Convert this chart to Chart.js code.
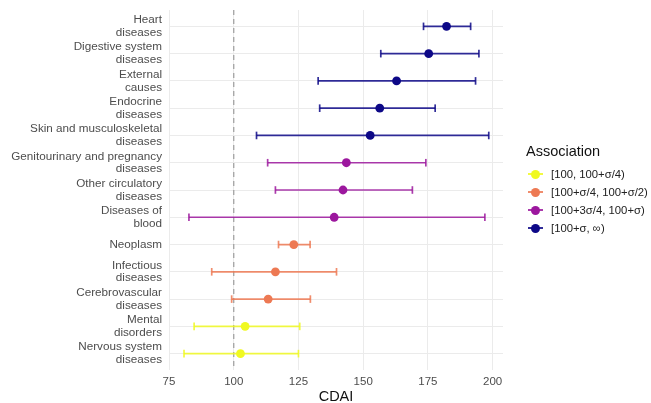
<!DOCTYPE html>
<html>
<head>
<meta charset="utf-8">
<script src="https://cdn.jsdelivr.net/npm/chart.js@4.4.1/dist/chart.umd.min.js"></script>
<style>
  html, body { margin: 0; padding: 0; background: #ffffff; }
  #wrap { position: relative; width: 651px; height: 403px; overflow: hidden; }
  #legend { position: absolute; left: 526px; top: 142px; font-family: "Liberation Sans", Arial, sans-serif; }
  #legend .title { font-size: 14.5px; line-height: 19px; color: #111; margin-bottom: 4px; }
  #legend .item { height: 18px; line-height: 18px; font-size: 11.3px; color: #222; white-space: nowrap; position: relative; padding-left: 25px; }
  #legend .sym { position: absolute; left: 2px; top: 0; width: 15px; height: 18px; }
  #legend .sym .ln { position: absolute; left: 0; top: 8px; width: 15px; height: 2px; }
  #legend .sym .dot { position: absolute; left: 3px; top: 5px; width: 9px; height: 9px; border-radius: 50%; }
</style>
</head>
<body>
<div id="wrap">
  <canvas id="c" width="651" height="403"></canvas>
  <div id="legend"></div>
</div>
<script>
// ---- data ----
const categories = [
  "Heart\ndiseases",
  "Digestive system\ndiseases",
  "External\ncauses",
  "Endocrine\ndiseases",
  "Skin and musculoskeletal\ndiseases",
  "Genitourinary and pregnancy\ndiseases",
  "Other circulatory\ndiseases",
  "Diseases of\nblood",
  "Neoplasm",
  "Infectious\ndiseases",
  "Cerebrovascular\ndiseases",
  "Mental\ndisorders",
  "Nervous system\ndiseases"
];
const estimate = [182.2, 175.3, 162.9, 156.4, 152.7, 143.5, 142.2, 138.8, 123.2, 116.1, 113.3, 104.4, 102.6];
const lower    = [173.3, 156.8, 132.6, 133.2, 108.8, 113.1, 116.1,  82.7, 117.3,  91.5,  99.2,  84.7,  80.8];
const upper    = [191.5, 194.7, 193.4, 177.8, 198.5, 174.2, 169.0, 197.0, 129.5, 139.7, 129.6, 125.5, 125.0];
const group    = [3, 3, 3, 3, 3, 2, 2, 2, 1, 1, 1, 0, 0];
const groupLabels = ["[100, 100+σ/4)", "[100+σ/4, 100+σ/2)", "[100+3σ/4, 100+σ)", "[100+σ, ∞)"];
const xTicks = [75, 100, 125, 150, 175, 200];
const refValue = 100;
const xTitle = "CDAI";
const legendTitle = "Association";

// ---- styles ----
const groupColors = ["#F0F921", "#ED7953", "#9C179E", "#0D0887"];
function withAlpha(hex, a) {
  const n = parseInt(hex.slice(1), 16);
  return `rgba(${(n >> 16) & 255},${(n >> 8) & 255},${n & 255},${a})`;
}

Chart.defaults.font.family = '"Liberation Sans", Arial, sans-serif';

const datasets = [];
// estimate points (drawn on top)
groupLabels.forEach((lab, g) => {
  const pts = [];
  estimate.forEach((v, i) => { if (group[i] === g) pts.push({ x: v, y: i }); });
  datasets.push({
    label: lab,
    data: pts,
    order: 0,
    pointRadius: 4.4,
    pointHoverRadius: 4.4,
    pointBackgroundColor: groupColors[g],
    pointBorderWidth: 0,
    showLine: false
  });
});
// error bars
categories.forEach((cat, i) => {
  const col = withAlpha(groupColors[group[i]], 0.85);
  datasets.push({
    label: "ci" + i,
    data: [{ x: lower[i], y: i }, { x: upper[i], y: i }],
    order: 1,
    showLine: true,
    borderColor: col,
    borderWidth: 1.7,
    pointStyle: 'line',
    rotation: 90,
    pointRadius: 3.8,
    pointHoverRadius: 3.8,
    pointBorderColor: col,
    pointBorderWidth: 1.7
  });
});

const refLinePlugin = {
  id: 'refLine',
  beforeDatasetsDraw(chart) {
    const { ctx, chartArea, scales } = chart;
    const px = scales.x.getPixelForValue(refValue);
    ctx.save();
    ctx.strokeStyle = '#a3a3a3';
    ctx.lineWidth = 1.3;
    ctx.setLineDash([5, 4]);
    ctx.beginPath();
    ctx.moveTo(px, chartArea.top);
    ctx.lineTo(px, chartArea.bottom);
    ctx.stroke();
    ctx.restore();
  }
};

new Chart(document.getElementById('c'), {
  type: 'scatter',
  data: { datasets },
  options: {
    responsive: false,
    animation: false,
    devicePixelRatio: 1,
    layout: { padding: { top: 10, right: 148, bottom: 0, left: 0 } },
    plugins: {
      legend: { display: false },
      tooltip: { enabled: false }
    },
    scales: {
      x: {
        type: 'linear',
        min: 75,
        max: 204,
        afterBuildTicks: (s) => { s.ticks = xTicks.map(v => ({ value: v })); },
        afterFit: (s) => { s.height = 33; s.paddingLeft = 0; s.paddingRight = 0; },
        border: { display: false },
        grid: { color: '#EBEBEB', lineWidth: 1, drawTicks: false },
        ticks: { color: '#4d4d4d', font: { size: 11.5 }, padding: 5 },
        title: { display: true, text: xTitle, color: '#111', font: { size: 14.5, lineHeight: 1 }, padding: { top: 0, bottom: -1 } }
      },
      y: {
        type: 'linear',
        reverse: true,
        min: -0.6,
        max: categories.length - 1 + 0.6,
        afterBuildTicks: (s) => { s.ticks = categories.map((_, i) => ({ value: i })); },
        afterFit: (s) => { s.width = 169; s.paddingTop = 0; s.paddingBottom = 0; },
        border: { display: false },
        grid: { color: '#EBEBEB', lineWidth: 1, drawTicks: false },
        ticks: {
          color: '#4d4d4d',
          font: { size: 11.7, lineHeight: 1.1 },
          padding: 7,
          autoSkip: false,
          callback: (v) => categories[Math.round(v)].split("\n")
        }
      }
    }
  },
  plugins: [refLinePlugin]
});

// legend (real text)
const lg = document.getElementById('legend');
const t = document.createElement('div');
t.className = 'title';
t.textContent = legendTitle;
lg.appendChild(t);
groupLabels.forEach((lab, g) => {
  const it = document.createElement('div');
  it.className = 'item';
  const sym = document.createElement('span');
  sym.className = 'sym';
  const ln = document.createElement('span');
  ln.className = 'ln';
  ln.style.background = withAlpha(groupColors[g], 0.85);
  const dot = document.createElement('span');
  dot.className = 'dot';
  dot.style.background = groupColors[g];
  sym.appendChild(ln); sym.appendChild(dot);
  it.appendChild(sym);
  it.appendChild(document.createTextNode(lab));
  lg.appendChild(it);
});
</script>
</body>
</html>
